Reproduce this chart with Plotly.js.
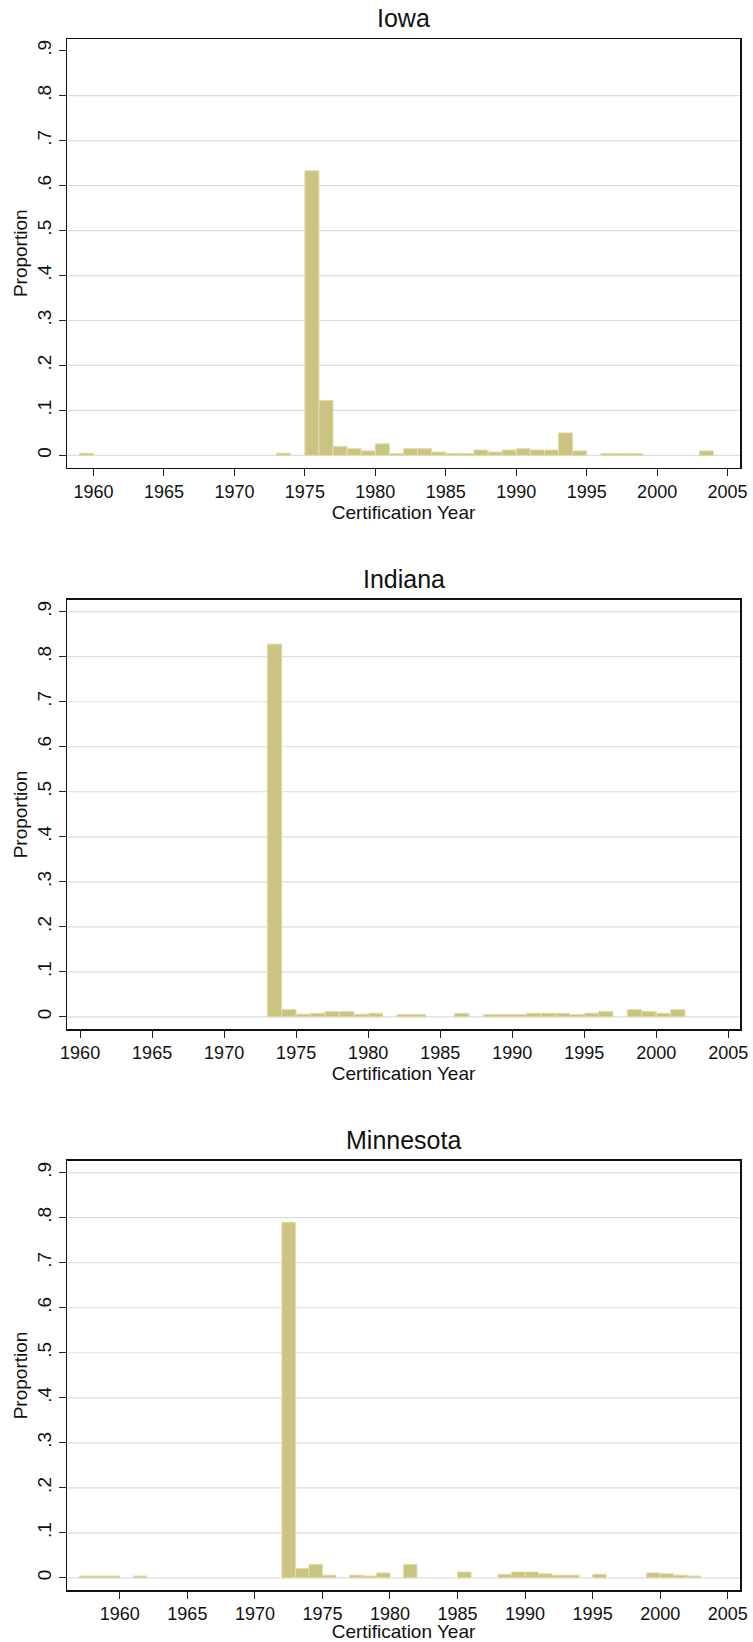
<!DOCTYPE html>
<html>
<head>
<meta charset="utf-8">
<script src="https://cdn.plot.ly/plotly-3.0.1.min.js"></script>
<style>html,body{margin:0;padding:0;background:#fff;}#chart{width:753px;height:1642px;}</style>
</head>
<body>
<div id="chart"></div>
<script>
// Bin start years (bin width 1 year) and proportions
const iowaYears = [1959,1973,1975,1976,1977,1978,1979,1980,1981,1982,1983,1984,1985,1986,1987,1988,1989,1990,1991,1992,1993,1994,1996,1997,1998,2003];
const iowaProps = [0.005,0.005,0.633,0.122,0.020,0.015,0.010,0.026,0.004,0.015,0.015,0.0075,0.0045,0.0045,0.012,0.0075,0.012,0.015,0.012,0.012,0.050,0.010,0.004,0.004,0.004,0.010];

const indianaYears = [1973,1974,1975,1976,1977,1978,1979,1980,1982,1983,1986,1988,1989,1990,1991,1992,1993,1994,1995,1996,1998,1999,2000,2001];
const indianaProps = [0.828,0.016,0.006,0.008,0.012,0.012,0.006,0.008,0.005,0.005,0.008,0.005,0.005,0.005,0.008,0.008,0.008,0.005,0.008,0.012,0.016,0.012,0.008,0.016];

const minnYears = [1957,1958,1959,1961,1972,1973,1974,1975,1977,1978,1979,1981,1985,1988,1989,1990,1991,1992,1993,1995,1999,2000,2001,2002];
const minnProps = [0.004,0.004,0.004,0.004,0.790,0.021,0.030,0.006,0.006,0.004,0.011,0.030,0.013,0.008,0.013,0.013,0.009,0.006,0.006,0.008,0.011,0.009,0.006,0.004];

const panelTitles = ["Iowa","Indiana","Minnesota"];
const xTickVals = [1960,1965,1970,1975,1980,1985,1990,1995,2000,2005];
const yTickVals = [0,0.1,0.2,0.3,0.4,0.5,0.6,0.7,0.8,0.9];
const yTickText = ["0",".1",".2",".3",".4",".5",".6",".7",".8",".9"];
const gridIowa = [0,0.1,0.2,0.3,0.4,0.5,0.6,0.7,0.8];
const gridOther = [0,0.1,0.2,0.3,0.4,0.5,0.6,0.7,0.8,0.9];

const barFill = "rgb(203,195,130)";
const barLine = "rgb(226,221,172)";
const FONT = "Liberation Sans, Arial, Helvetica, sans-serif";

function barTrace(xs, ys, ax) {
  return {
    type: "bar", x: xs, y: ys, width: 1, offset: 0,
    xaxis: "x" + ax, yaxis: "y" + ax,
    marker: {color: barFill, line: {color: barLine, width: 1}},
    hoverinfo: "x+y", showlegend: false
  };
}

const data = [
  barTrace(iowaYears, iowaProps, ""),
  barTrace(indianaYears, indianaProps, "2"),
  barTrace(minnYears, minnProps, "3")
];

function xax(range, anchor) {
  return {
    range: range, anchor: anchor, domain: [0,1],
    tickmode: "array", tickvals: xTickVals,
    ticks: "outside", ticklen: 7, tickwidth: 1, tickcolor: "#222",
    showline: true, mirror: true, linecolor: "#111", linewidth: 1.5,
    showgrid: false, zeroline: false,
    tickfont: {family: FONT, size: 18, color: "#111"},
    title: {text: "Certification Year", font: {family: FONT, size: 19, color: "#111"}, standoff: 0}
  };
}
function yax(domain, anchor) {
  return {
    range: [-0.027, 0.926], anchor: anchor, domain: domain,
    tickmode: "array", tickvals: yTickVals, ticktext: yTickText, tickangle: -90,
    ticks: "outside", ticklen: 7, tickwidth: 1, tickcolor: "#222",
    showline: true, mirror: true, linecolor: "#111", linewidth: 1.5,
    showgrid: false, zeroline: false,
    tickfont: {family: FONT, size: 19, color: "#111"},
    title: {text: "Proportion", font: {family: FONT, size: 19, color: "#111"}, standoff: 1}
  };
}

const shapes = [];
function addGrid(vals, ax) {
  vals.forEach(v => shapes.push({
    type: "line", layer: "below", xref: "x" + ax + " domain", yref: "y" + ax,
    x0: 0, x1: 1, y0: v, y1: v, line: {color: "rgb(222,222,222)", width: 1.2}
  }));
}
addGrid(gridIowa, "");
addGrid(gridOther, "2");
addGrid(gridOther, "3");

const annotations = panelTitles.map((t, i) => ({
  text: t, showarrow: false,
  xref: (i === 0 ? "x" : "x" + (i + 1)) + " domain",
  yref: (i === 0 ? "y" : "y" + (i + 1)) + " domain",
  x: 0.5, y: 1, xanchor: "center", yanchor: "bottom", yshift: 5,
  font: {family: FONT, size: 25, color: "#111"}
}));

const layout = {
  width: 753, height: 1642,
  margin: {l: 67, r: 13, t: 39, b: 52, pad: 0},
  paper_bgcolor: "#fff", plot_bgcolor: "#fff",
  showlegend: false,
  xaxis: xax([1958.12, 2005.88], "y"),
  yaxis: yax([0.7237, 1], "x"),
  xaxis2: xax([1959.09, 2005.82], "y2"),
  yaxis2: yax([0.3617, 0.6383], "x2"),
  xaxis3: xax([1956.09, 2005.91], "y3"),
  yaxis3: yax([0, 0.2766], "x3"),
  shapes: shapes,
  annotations: annotations
};

Plotly.newPlot("chart", data, layout, {displayModeBar: false, staticPlot: true});
</script>
</body>
</html>
